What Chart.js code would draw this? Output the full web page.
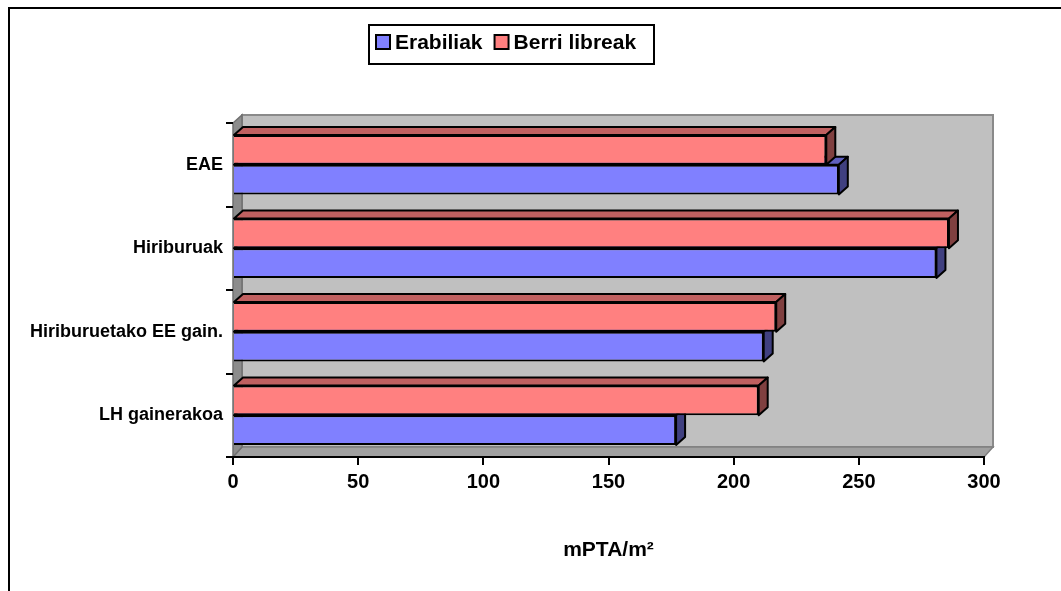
<!DOCTYPE html>
<html>
<head>
<meta charset="utf-8">
<script src="https://cdn.jsdelivr.net/npm/chart.js@4.4.0/dist/chart.umd.min.js"></script>
<style>
  body { margin: 0; background: #fff; }
  canvas { display: block; }
</style>
</head>
<body>
<canvas id="barChart" width="1061" height="591"></canvas>
<script>
var categories = ['EAE', 'Hiriburuak', 'Hiriburuetako EE gain.', 'LH gainerakoa'];
var erabiliak = [242, 281, 212, 177];
var berriLibreak = [237, 286, 217, 210];
var xTicks = [0, 50, 100, 150, 200, 250, 300];
var seriesNames = ['Erabiliak', 'Berri libreak'];
var axisTitle = 'mPTA/m²';

var FONT = '"Liberation Sans", Arial, sans-serif';
var DX = 9, DY = 8; // 3d depth

// gray walls + floor behind the bars
var walls = {
  id: 'walls',
  beforeDraw: function(chart) {
    var ctx = chart.ctx, a = chart.chartArea;
    ctx.save();
    // outer frame
    ctx.strokeStyle = '#000';
    ctx.lineWidth = 2;
    ctx.strokeRect(9, 8, 1200, 800);
    // back wall
    ctx.fillStyle = '#c0c0c0';
    ctx.fillRect(a.left + DX, a.top - DY, a.width, a.height - 2);
    ctx.strokeStyle = '#8a8a8a';
    ctx.strokeRect(a.left + DX, a.top - DY, a.width, a.height - 2);
    // floor
    ctx.beginPath();
    ctx.moveTo(a.left, a.bottom);
    ctx.lineTo(a.right, a.bottom);
    ctx.lineTo(a.right + DX, a.bottom - DY - 2);
    ctx.lineTo(a.left + DX, a.bottom - DY - 2);
    ctx.closePath();
    ctx.fillStyle = '#a0a0a0';
    ctx.fill();
    ctx.strokeStyle = '#808080';
    ctx.lineWidth = 1.5;
    ctx.stroke();
    // left wall
    ctx.beginPath();
    ctx.moveTo(a.left, a.bottom);
    ctx.lineTo(a.left, a.top);
    ctx.lineTo(a.left + DX, a.top - DY);
    ctx.lineTo(a.left + DX, a.bottom - DY - 2);
    ctx.closePath();
    ctx.fillStyle = '#8c8c8c';
    ctx.fill();
    ctx.strokeStyle = '#707070';
    ctx.stroke();
    ctx.restore();
  }
};

// top and side faces of each bar
var bars3d = {
  id: 'bars3d',
  beforeDatasetsDraw: function(chart) {
    var ctx = chart.ctx;
    ctx.save();
    ctx.lineWidth = 2;
    ctx.strokeStyle = '#000';
    ctx.lineJoin = 'round';
    for (var d = chart.data.datasets.length - 1; d >= 0; d--) {
      var ds = chart.data.datasets[d];
      var meta = chart.getDatasetMeta(d);
      meta.data.forEach(function(bar) {
        var p = bar.getProps(['x', 'y', 'base', 'height'], true);
        var l = Math.min(p.base, p.x), r = Math.max(p.base, p.x);
        var t = p.y - p.height / 2, b = p.y + p.height / 2;
        // top
        ctx.beginPath();
        ctx.moveTo(l, t);
        ctx.lineTo(l + DX, t - DY);
        ctx.lineTo(r + DX, t - DY);
        ctx.lineTo(r, t);
        ctx.closePath();
        ctx.fillStyle = ds.topColor;
        ctx.fill();
        ctx.stroke();
        // side
        ctx.beginPath();
        ctx.moveTo(r, t);
        ctx.lineTo(r + DX, t - DY);
        ctx.lineTo(r + DX, b - DY);
        ctx.lineTo(r, b);
        ctx.closePath();
        ctx.fillStyle = ds.sideColor;
        ctx.fill();
        ctx.stroke();
      });
    }
    ctx.restore();
  }
};

// boxed legend like the excel one
var boxLegend = {
  id: 'boxLegend',
  afterDraw: function(chart) {
    var ctx = chart.ctx;
    ctx.save();
    ctx.lineWidth = 2;
    ctx.strokeStyle = '#000';
    ctx.strokeRect(369, 25, 285, 39);
    ctx.font = 'bold 21px ' + FONT;
    ctx.textBaseline = 'alphabetic';
    var x = 376;
    var order = [1, 0];
    order.forEach(function(i) {
      var ds = chart.data.datasets[i];
      ctx.fillStyle = ds.backgroundColor;
      ctx.fillRect(x, 35, 14, 14);
      ctx.lineWidth = 2;
      ctx.strokeRect(x, 35, 14, 14);
      ctx.fillStyle = '#000';
      ctx.fillText(ds.label, x + 19, 49);
      x += 19 + ctx.measureText(ds.label).width + 12;
    });
    ctx.restore();
  }
};

var ctx = document.getElementById('barChart').getContext('2d');

var config = {
  type: 'bar',
  data: {
    labels: categories,
    datasets: [{
      label: seriesNames[1],
      data: berriLibreak,
      backgroundColor: '#ff8080',
      topColor: '#c06060',
      sideColor: '#804040',
      borderColor: '#000',
      borderWidth: 2
    }, {
      label: seriesNames[0],
      data: erabiliak,
      backgroundColor: '#8080ff',
      topColor: '#6060c0',
      sideColor: '#404080',
      borderColor: '#000',
      borderWidth: 2
    }]
  },
  options: {
    indexAxis: 'y',
    responsive: false,
    animation: false,
    categoryPercentage: 0.71,
    barPercentage: 1,
    layout: { padding: { top: 123, right: 77, left: 0, bottom: 0 } },
    plugins: {
      legend: { display: false },
      tooltip: { enabled: false }
    },
    scales: {
      x: {
        min: xTicks[0],
        max: xTicks[xTicks.length - 1],
        afterBuildTicks: function(scale) {
          scale.ticks = xTicks.map(function(v) { return { value: v }; });
        },
        afterFit: function(scale) { scale.height = 134; },
        grid: {
          drawOnChartArea: false,
          drawTicks: true,
          tickLength: 8,
          tickColor: '#000',
          lineWidth: 2
        },
        border: { display: true, color: '#000', width: 2 },
        ticks: {
          color: '#000',
          padding: 5,
          font: { family: FONT, size: 20, weight: 'bold' }
        },
        title: {
          display: true,
          text: axisTitle,
          color: '#000',
          padding: { top: 0, bottom: 28 },
          font: { family: FONT, size: 21, weight: 'bold' }
        }
      },
      y: {
        afterFit: function(scale) { scale.width = 233; },
        grid: {
          drawOnChartArea: false,
          drawTicks: true,
          tickLength: 7,
          tickColor: '#000',
          lineWidth: 2
        },
        border: { display: false },
        ticks: {
          color: '#000',
          padding: 3,
          font: { family: FONT, size: 18, weight: 'bold' }
        }
      }
    }
  },
  plugins: [walls, bars3d, boxLegend]
};

window.myBar = new Chart(ctx, config);
</script>
</body>
</html>
